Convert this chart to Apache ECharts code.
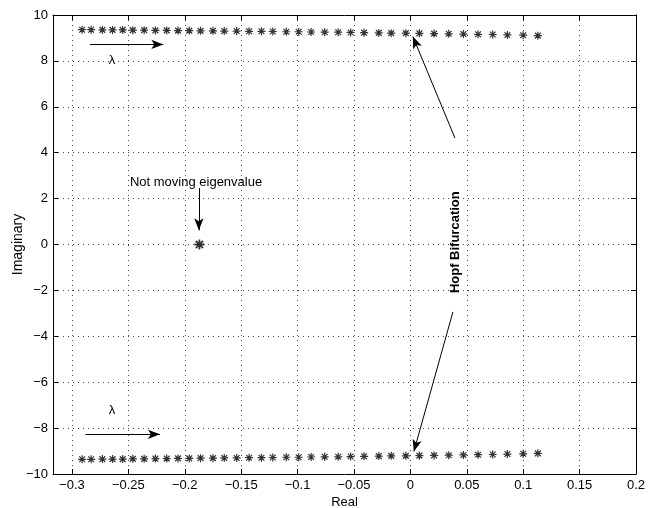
<!DOCTYPE html>
<html>
<head>
<meta charset="utf-8">
<script src="https://cdn.jsdelivr.net/npm/echarts@6/dist/echarts.min.js"></script>
<style>
  html, body { margin: 0; padding: 0; background: #fff; }
  #chart { width: 654px; height: 508px; }
</style>
</head>
<body>
<div id="chart"></div>
<script>
// eigenvalue locus, upper branch
var realTop = [-0.291, -0.283, -0.273, -0.264, -0.255, -0.246, -0.236, -0.226, -0.216, -0.206,
  -0.196, -0.186, -0.175, -0.165, -0.154, -0.143, -0.132, -0.122, -0.110, -0.099,
  -0.088, -0.076, -0.064, -0.053, -0.041, -0.028, -0.017, -0.004, 0.008, 0.021,
  0.034, 0.047, 0.060, 0.073, 0.086, 0.100, 0.113];
var imagTop = [9.36, 9.36, 9.35, 9.35, 9.35, 9.34, 9.34, 9.33, 9.33, 9.32,
  9.32, 9.31, 9.31, 9.30, 9.30, 9.29, 9.29, 9.28, 9.27, 9.27,
  9.26, 9.25, 9.25, 9.24, 9.23, 9.22, 9.21, 9.21, 9.20, 9.19,
  9.18, 9.17, 9.16, 9.15, 9.13, 9.12, 9.10];
// lower branch
var realBottom = [-0.291, -0.283, -0.273, -0.264, -0.255, -0.246, -0.236, -0.226, -0.216, -0.206,
  -0.196, -0.186, -0.175, -0.165, -0.154, -0.143, -0.132, -0.122, -0.110, -0.099,
  -0.088, -0.076, -0.064, -0.053, -0.041, -0.028, -0.017, -0.004, 0.008, 0.021,
  0.034, 0.047, 0.060, 0.073, 0.086, 0.100, 0.113];
var imagBottom = [-9.36, -9.36, -9.35, -9.35, -9.35, -9.34, -9.34, -9.33, -9.33, -9.32,
  -9.32, -9.31, -9.31, -9.30, -9.30, -9.29, -9.29, -9.28, -9.27, -9.27,
  -9.26, -9.25, -9.25, -9.24, -9.23, -9.22, -9.21, -9.21, -9.20, -9.19,
  -9.18, -9.17, -9.16, -9.15, -9.13, -9.12, -9.10];
// the eigenvalue that does not move
var realFixed = [-0.187];
var imagFixed = [0];

var xTicks = [-0.3, -0.25, -0.2, -0.15, -0.1, -0.05, 0, 0.05, 0.1, 0.15, 0.2];
var xMin = -0.3168, xMax = 0.2;   // the box starts a little left of -0.3

// annotation arrows [x1, y1, x2, y2] in data units
var arrows = [
  [-0.284, 8.72, -0.219, 8.72],
  [-0.288, -8.27, -0.222, -8.27],
  [-0.1875, 2.46, -0.1875, 0.62],
  [0.0395, 4.64, 0.0022, 9.06],
  [0.0377, -2.94, 0.0031, -9.02]
];
// annotation texts [x, y, text, rotate, bold]
var notes = [
  [-0.2646, 8.04, '\u03bb', 0, false],
  [-0.2646, -7.25, '\u03bb', 0, false],
  [-0.19, 2.7, 'Not moving eigenvalue', 0, false],
  [0.0395, 0.1, 'Hopf Bifurcation', 90, true]
];

var FONT = '"Liberation Sans", Arial, Helvetica, sans-serif';
var starPath = 'path://M0,-5L0,5M-5,0L5,0M-3.6,-3.6L3.6,3.6M-3.6,3.6L3.6,-3.6';

function zip(xs, ys) {
  var out = [];
  for (var i = 0; i < xs.length; i++) out.push([xs[i], ys[i]]);
  return out;
}
function fmt(v) {
  return String(v).replace('-', '\u2212');
}

var lines = arrows.map(function(a) {
  return [{ coord: [a[0], a[1]] }, { coord: [a[2], a[3]] }];
});

var axisLine = { show: true, onZero: false, lineStyle: { color: '#000', width: 1 } };
var tick = { show: true, inside: true, length: 5, lineStyle: { color: '#000' } };
var gridLine = { show: true, lineStyle: { color: '#444', width: 1, type: [1, 4] } };
var labelFont = { fontFamily: FONT, fontSize: 13, color: '#000' };

var myChart = echarts.init(document.getElementById('chart'), null, { renderer: 'canvas' });
var option = {
  animation: false,
  backgroundColor: '#fff',
  grid: [
    { left: 53, right: 18, top: 15, bottom: 34, outerBoundsMode: 'none', containLabel: false },
    // only for the vertical grid lines
    { left: 72, right: 18, top: 15, bottom: 34, outerBoundsMode: 'none', containLabel: false }
  ],
  xAxis: [{
    type: 'value', gridIndex: 0, min: xMin, max: xMax,
    name: 'Real', nameLocation: 'middle', nameGap: 22, nameMoveOverlap: false,
    nameTextStyle: labelFont,
    axisLine: axisLine, splitLine: { show: false },
    axisTick: { show: true, inside: true, length: 5, lineStyle: { color: '#000' }, customValues: xTicks },
    axisLabel: {
      fontFamily: FONT, fontSize: 13, color: '#000', margin: 5, customValues: xTicks,
      formatter: function(v) { return fmt(+(+v).toFixed(2)); }
    }
  }, {
    type: 'value', gridIndex: 0, min: xMin, max: xMax, position: 'top',
    axisLine: axisLine, splitLine: { show: false }, axisLabel: { show: false },
    axisTick: { show: true, inside: true, length: 5, lineStyle: { color: '#000' }, customValues: xTicks }
  }, {
    type: 'value', gridIndex: 1, min: -0.3, max: 0.2, interval: 0.05,
    axisLine: { show: false }, axisTick: { show: false }, axisLabel: { show: false },
    splitLine: gridLine
  }],
  yAxis: [{
    type: 'value', gridIndex: 0, min: -10, max: 10, interval: 2,
    name: 'Imaginary', nameLocation: 'middle', nameGap: 28, nameMoveOverlap: false,
    nameTextStyle: { fontFamily: FONT, fontSize: 14, color: '#000' },
    axisLine: axisLine, axisTick: tick, splitLine: gridLine,
    axisLabel: {
      fontFamily: FONT, fontSize: 13, color: '#000', margin: 5,
      formatter: function(v) { return fmt(v); }
    }
  }, {
    type: 'value', gridIndex: 0, min: -10, max: 10, interval: 2, position: 'right',
    axisLine: axisLine, axisTick: tick, splitLine: { show: false }, axisLabel: { show: false }
  }, {
    type: 'value', gridIndex: 1, min: -10, max: 10, interval: 2,
    axisLine: { show: false }, axisTick: { show: false }, axisLabel: { show: false },
    splitLine: { show: false }
  }],
  series: [{
    type: 'scatter', xAxisIndex: 0, yAxisIndex: 0, data: zip(realTop, imagTop),
    symbol: starPath, symbolSize: 8,
    itemStyle: { color: 'rgba(0,0,0,0)', borderColor: '#000', borderWidth: 1.2 },
    markLine: {
      silent: true, symbol: ['none', 'arrow'], symbolSize: [7, 12],
      label: { show: false },
      lineStyle: { color: '#000', width: 1, type: 'solid' },
      emphasis: { disabled: true },
      data: lines
    }
  }, {
    type: 'scatter', xAxisIndex: 0, yAxisIndex: 0, data: zip(realBottom, imagBottom),
    symbol: starPath, symbolSize: 8,
    itemStyle: { color: 'rgba(0,0,0,0)', borderColor: '#000', borderWidth: 1.2 }
  }, {
    type: 'scatter', xAxisIndex: 0, yAxisIndex: 0, data: zip(realFixed, imagFixed),
    symbol: starPath, symbolSize: 10,
    itemStyle: { color: 'rgba(0,0,0,0)', borderColor: '#000', borderWidth: 1.8 }
  }]
};
myChart.setOption(option);

// place the annotation texts at their data positions
var texts = notes.map(function(n) {
  var p = myChart.convertToPixel({ xAxisIndex: 0, yAxisIndex: 0 }, [n[0], n[1]]);
  return {
    type: 'text', x: p[0], y: p[1], rotation: n[3] * Math.PI / 180,
    style: {
      text: n[2], fill: '#000', align: 'center', verticalAlign: 'middle',
      font: (n[4] ? 'bold ' : '') + '13px ' + FONT
    }
  };
});
myChart.setOption({ graphic: texts });
</script>
</body>
</html>
